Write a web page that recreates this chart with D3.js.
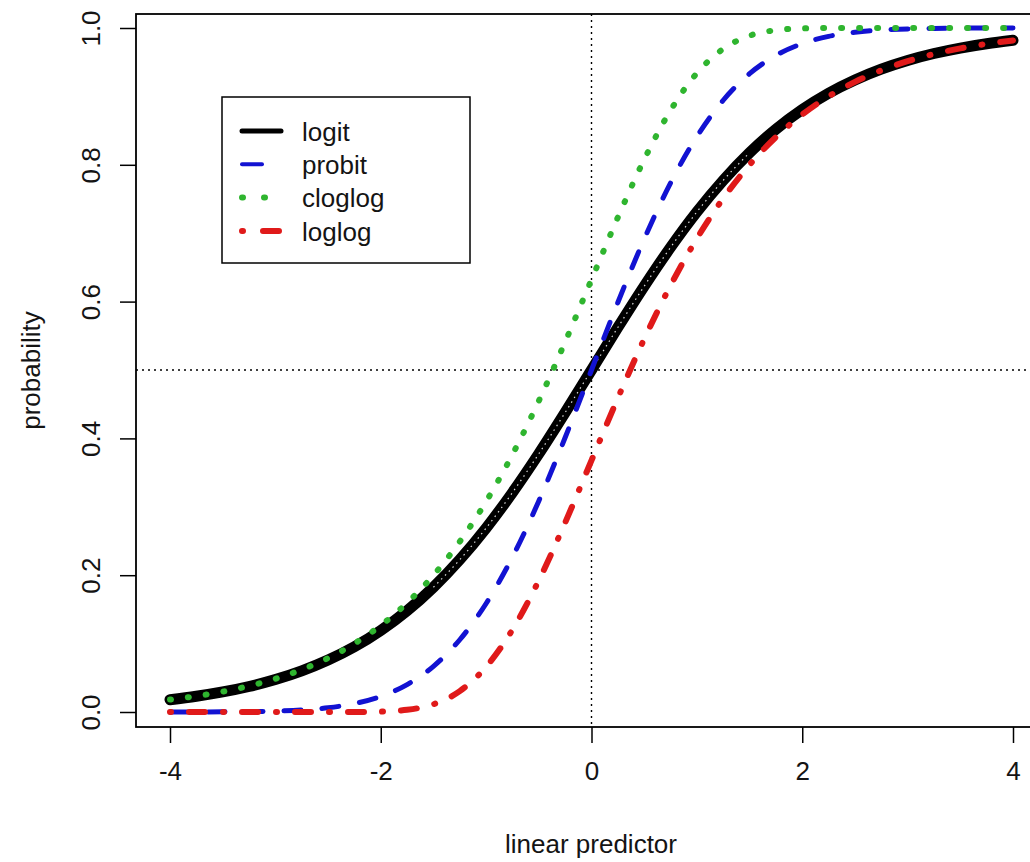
<!DOCTYPE html>
<html><head><meta charset="utf-8">
<script src="https://cdn.jsdelivr.net/npm/d3@7"></script>
<style>
body{margin:0;background:#fff;}
text{font-family:"Liberation Sans",Arial,sans-serif;fill:#141414;}
</style>
</head><body>
<svg id="chart" width="1030" height="862"></svg>
<script>
// ---- data ----
const xValues = [-4,-3.75,-3.5,-3.25,-3,-2.75,-2.5,-2.25,-2,-1.75,-1.5,-1.25,-1,-0.75,-0.5,-0.25,0,
                 0.25,0.5,0.75,1,1.25,1.5,1.75,2,2.25,2.5,2.75,3,3.25,3.5,3.75,4];
const logitValues = [0.0180,0.0230,0.0293,0.0373,0.0474,0.0601,0.0759,0.0953,0.1192,0.1480,0.1824,0.2227,0.2689,0.3208,0.3775,0.4378,0.5,
                     0.5622,0.6225,0.6792,0.7311,0.7773,0.8176,0.8520,0.8808,0.9047,0.9241,0.9399,0.9526,0.9627,0.9707,0.9770,0.9820];
const probitValues = [0.00003,0.00009,0.00023,0.00058,0.00135,0.00298,0.00621,0.01222,0.02275,0.04006,0.06681,0.10565,0.15866,0.22663,0.30854,0.40129,0.5,
                      0.59871,0.69146,0.77337,0.84134,0.89435,0.93319,0.95994,0.97725,0.98778,0.99379,0.99702,0.99865,0.99942,0.99977,0.99991,0.99997];
const cloglogValues = [0.01815,0.02324,0.02975,0.03803,0.04857,0.06193,0.07881,0.10004,0.12658,0.15951,0.19999,0.24911,0.30780,0.37647,0.45476,0.54107,0.63212,
                       0.72307,0.80770,0.87961,0.93401,0.96951,0.98869,0.99683,0.99938,0.99992,0.99999,1,1,1,1,1,1];
const loglogValues = [0,0,0,0,0,0,0.00001,0.00008,0.00062,0.00317,0.01131,0.03049,0.06599,0.12039,0.19230,0.27693,0.36788,
                      0.45893,0.54524,0.62353,0.69220,0.75089,0.80001,0.84049,0.87342,0.89996,0.92119,0.93807,0.95143,0.96197,0.97025,0.97676,0.98185];
const seriesNames = ["logit","probit","cloglog","loglog"];
const xTicks = [-4,-2,0,2,4];
const xTickLabels = ["-4","-2","0","2","4"];
const yTicks = [0,0.2,0.4,0.6,0.8,1.0];
const yTickLabels = ["0.0","0.2","0.4","0.6","0.8","1.0"];
const xTitle = "linear predictor";
const yTitle = "probability";
const refX = 0, refY = 0.5;

// ---- styles ----
const styles = {
  logit:   {color:"#000000", width:11, dash:null, legWidth:5, legDash:null},
  probit:  {color:"#1212d2", width:5, dash:"17,21", legWidth:4, legDash:"20,30"},
  cloglog: {color:"#2fb52f", width:6, dash:"1,17", legWidth:6, legDash:"1,21"},
  loglog:  {color:"#e01a1a", width:6, dash:"1,18,16,18", legWidth:6, legDash:"1,20,16,20"}
};
const seriesValues = {logit:logitValues, probit:probitValues, cloglog:cloglogValues, loglog:loglogValues};

const svg = d3.select("#chart");
const box = {left:136, top:14, right:1046, bottom:727};
const x = d3.scaleLinear().domain([-4,4]).range([170,1013]);
const y = d3.scaleLinear().domain([0,1]).range([712,28]);
const FS = 26;

// reference lines
svg.append("line").attr("x1",x(refX)).attr("x2",x(refX)).attr("y1",box.top).attr("y2",box.bottom)
  .attr("stroke","#000").attr("stroke-width",1.4).attr("stroke-dasharray","2,4");
svg.append("line").attr("x1",box.left).attr("x2",box.right).attr("y1",y(refY)).attr("y2",y(refY))
  .attr("stroke","#000").attr("stroke-width",1.4).attr("stroke-dasharray","2,4");

// curves
const line = d3.line().x(d=>x(d[0])).y(d=>y(d[1])).curve(d3.curveMonotoneX);
const pts = name => xValues.map((v,i)=>[v, seriesValues[name][i]]);

const gLines = svg.append("g");
seriesNames.forEach(name=>{
  const s = styles[name];
  gLines.append("path").datum(pts(name)).attr("d",line)
    .attr("fill","none").attr("stroke",s.color).attr("stroke-width",s.width)
    .attr("stroke-linecap","round").attr("stroke-linejoin","round")
    .attr("stroke-dasharray",s.dash);
  if(name==="logit"){
    gLines.append("path").datum(pts("logit").filter(d=>d[0]>=-1.6 && d[0]<=1.6)).attr("d",line)
      .attr("fill","none").attr("stroke","#fff").attr("stroke-width",1.2).attr("opacity",0.85)
      .attr("stroke-dasharray","1.5,4");
  }
});

// box
svg.append("rect").attr("x",box.left).attr("y",box.top)
  .attr("width",box.right-box.left).attr("height",box.bottom-box.top)
  .attr("fill","none").attr("stroke","#000").attr("stroke-width",1.8);

// x axis
const gx = svg.append("g").attr("transform",`translate(0,${box.bottom})`)
  .call(d3.axisBottom(x).tickValues(xTicks).tickFormat((d,i)=>xTickLabels[i]).tickSize(16).tickPadding(19).tickSizeOuter(0));
gx.select(".domain").remove();
gx.attr("font-size",FS).attr("font-family",null);
gx.selectAll("line").attr("stroke","#000").attr("stroke-width",1.5);

// y axis
const gy = svg.append("g").attr("transform",`translate(${box.left},0)`)
  .call(d3.axisLeft(y).tickValues(yTicks).tickFormat((d,i)=>yTickLabels[i]).tickSize(16).tickSizeOuter(0));
gy.select(".domain").remove();
gy.attr("font-size",FS).attr("font-family",null);
gy.selectAll("line").attr("stroke","#000").attr("stroke-width",1.5);
gy.selectAll("text").attr("x",null).attr("dy",null).attr("text-anchor","middle")
  .attr("transform","translate(-36,0) rotate(-90)");

// titles
svg.append("text").attr("x",(box.left+box.right)/2).attr("y",853).attr("text-anchor","middle")
  .attr("font-size",FS).text(xTitle);
svg.append("text").attr("transform",`translate(40,${(box.top+box.bottom)/2}) rotate(-90)`)
  .attr("text-anchor","middle").attr("font-size",FS).text(yTitle);

// legend
const leg = svg.append("g");
leg.append("rect").attr("x",222).attr("y",97).attr("width",248).attr("height",166)
  .attr("fill","#fff").attr("stroke","#000").attr("stroke-width",1.5);
seriesNames.forEach((name,i)=>{
  const s = styles[name];
  const ry = 131 + i*33.3;
  leg.append("line").attr("x1",242).attr("x2",281).attr("y1",ry).attr("y2",ry)
    .attr("stroke",s.color).attr("stroke-width",s.legWidth).attr("stroke-linecap","round")
    .attr("stroke-dasharray",s.legDash);
  leg.append("text").attr("x",302).attr("y",ry).attr("dy","0.38em").attr("font-size",FS).text(name);
});
</script>
</body></html>
